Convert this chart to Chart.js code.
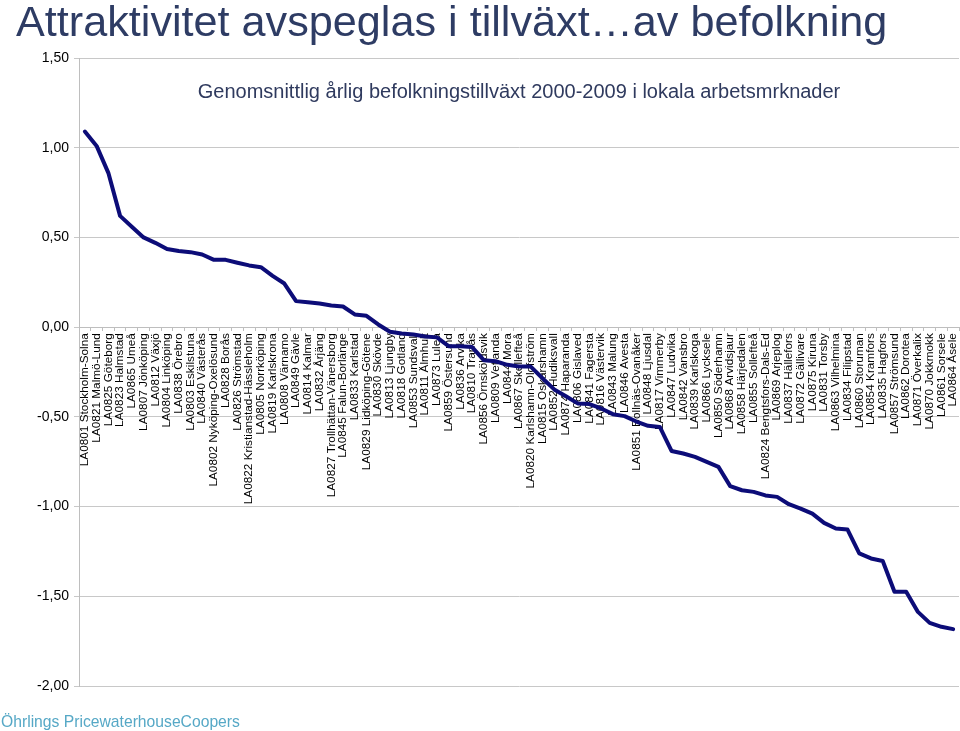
<!DOCTYPE html>
<html>
<head>
<meta charset="utf-8">
<script src="https://cdn.jsdelivr.net/npm/chart.js@4/dist/chart.umd.min.js"></script>
<style>
  html, body { margin: 0; padding: 0; background: #fff; }
  #wrap { position: relative; width: 960px; height: 731px; overflow: hidden; }
  #c { position: absolute; left: 0; top: 0; }
  .txt { position: absolute; font-family: "Liberation Sans", Arial, sans-serif; white-space: nowrap; }
  #title { left: 16px; top: 0px; font-size: 43.2px; line-height: 43px; color: #2E3C64; }
  #subtitle { left: 79px; width: 880px; text-align: center; top: 81px; font-size: 20px; line-height: 20px; color: #2F3A5E; }
  #footer { left: 1px; top: 714px; font-size: 15.7px; line-height: 15.7px; color: #56A8C6; }
</style>
</head>
<body>
<div id="wrap">
  <canvas id="c" width="960" height="731"></canvas>
  <div class="txt" id="title">Attraktivitet avspeglas i tillväxt…av befolkning</div>
  <div class="txt" id="subtitle">Genomsnittlig årlig befolkningstillväxt 2000-2009 i lokala arbetsmrknader</div>
  <div class="txt" id="footer">Öhrlings PricewaterhouseCoopers</div>
</div>
<script>
const categories = [
  "LA0801 Stockholm-Solna", "LA0821 Malmö-Lund", "LA0825 Göteborg", "LA0823 Halmstad", "LA0865 Umeå",
  "LA0807 Jönköping", "LA0812 Växjö", "LA0804 Linköping", "LA0838 Örebro", "LA0803 Eskilstuna",
  "LA0840 Västerås", "LA0802 Nyköping-Oxelösund", "LA0828 Borås", "LA0826 Strömstad", "LA0822 Kristianstad-Hässleholm",
  "LA0805 Norrköping", "LA0819 Karlskrona", "LA0808 Värnamo", "LA0849 Gävle", "LA0814 Kalmar",
  "LA0832 Årjäng", "LA0827 Trollhättan-Vänersborg", "LA0845 Falun-Borlänge", "LA0833 Karlstad", "LA0829 Lidköping-Götene",
  "LA0830 Skövde", "LA0813 Ljungby", "LA0818 Gotland", "LA0853 Sundsvall", "LA0811 Älmhult",
  "LA0873 Luleå", "LA0859 Östersund", "LA0836 Arvika", "LA0810 Tranås", "LA0856 Örnsköldsvik",
  "LA0809 Vetlanda", "LA0844 Mora", "LA0867 Skellefteå", "LA0820 Karlshamn-Olofström", "LA0815 Oskarshamn",
  "LA0852 Hudiksvall", "LA0874 Haparanda", "LA0806 Gislaved", "LA0841 Fagersta", "LA0816 Västervik",
  "LA0843 Malung", "LA0846 Avesta", "LA0851 Bollnäs-Ovanåker", "LA0848 Ljusdal", "LA0817 Vimmerby",
  "LA0847 Ludvika", "LA0842 Vansbro", "LA0839 Karlskoga", "LA0866 Lycksele", "LA0850 Söderhamn",
  "LA0868 Arvidsjaur", "LA0858 Härjedalen", "LA0855 Sollefteå", "LA0824 Bengtsfors-Dals-Ed", "LA0869 Arjeplog",
  "LA0837 Hällefors", "LA0872 Gällivare", "LA0875 Kiruna", "LA0831 Torsby", "LA0863 Vilhelmina",
  "LA0834 Filipstad", "LA0860 Storuman", "LA0854 Kramfors", "LA0835 Hagfors", "LA0857 Strömsund",
  "LA0862 Dorotea", "LA0871 Överkalix", "LA0870 Jokkmokk", "LA0861 Sorsele", "LA0864 Åsele"
];

const growth = [
  1.09, 1.01, 0.86, 0.62, 0.56,
  0.50, 0.47, 0.435, 0.424, 0.418,
  0.405, 0.375, 0.375, 0.359, 0.344,
  0.334, 0.286, 0.243, 0.145, 0.139,
  0.132, 0.121, 0.115, 0.071, 0.063,
  0.015, -0.026, -0.035, -0.041, -0.052,
  -0.057, -0.106, -0.106, -0.111, -0.184,
  -0.19, -0.21, -0.219, -0.22, -0.285,
  -0.347, -0.385, -0.425, -0.429, -0.453,
  -0.485, -0.496, -0.526, -0.55, -0.556,
  -0.69, -0.704, -0.723, -0.751, -0.779,
  -0.886, -0.909, -0.918, -0.938, -0.946,
  -0.987, -1.011, -1.039, -1.091, -1.122,
  -1.128, -1.261, -1.289, -1.303, -1.475,
  -1.475, -1.587, -1.648, -1.670, -1.683
];

const yMin = -2.0;
const yMax = 1.5;
const yStep = 0.5;

const fontFamily = '"Liberation Sans", Arial, sans-serif';

new Chart(document.getElementById('c'), {
  type: 'line',
  data: {
    labels: categories,
    datasets: [{
      data: growth,
      borderColor: '#0c0c78',
      borderWidth: 4,
      pointRadius: 0,
      pointHoverRadius: 0,
      tension: 0,
      fill: false,
      borderJoinStyle: 'round',
      borderCapStyle: 'round'
    }]
  },
  options: {
    responsive: false,
    animation: false,
    devicePixelRatio: 1,
    layout: { padding: { top: 58, bottom: 45, left: 0, right: 1 } },
    plugins: {
      legend: { display: false },
      tooltip: { enabled: false },
      title: { display: false }
    },
    scales: {
      x: {
        type: 'category',
        position: { y: 0 },
        offset: true,
        grid: {
          offset: true,
          drawOnChartArea: false,
          drawTicks: true,
          tickLength: 3,
          color: '#BEBEBE'
        },
        border: { display: true, color: '#BEBEBE', width: 1 },
        ticks: {
          autoSkip: false,
          minRotation: 90,
          maxRotation: 90,
          padding: 3,
          color: '#000',
          font: { family: fontFamily, size: 11.8 }
        },
        afterFit: (s) => { s.height = 0; s.paddingLeft = 0; s.paddingRight = 0; }
      },
      y: {
        min: yMin,
        max: yMax,
        grid: { color: '#C8C8C8', lineWidth: 1, tickLength: 5 },
        border: { display: true, color: '#BEBEBE', width: 1 },
        ticks: {
          stepSize: yStep,
          padding: 5,
          color: '#000',
          font: { family: fontFamily, size: 14 },
          callback: (v) => v.toFixed(2).replace('.', ',')
        },
        afterFit: (s) => { s.width = 79; }
      }
    }
  }
});
</script>
</body>
</html>
